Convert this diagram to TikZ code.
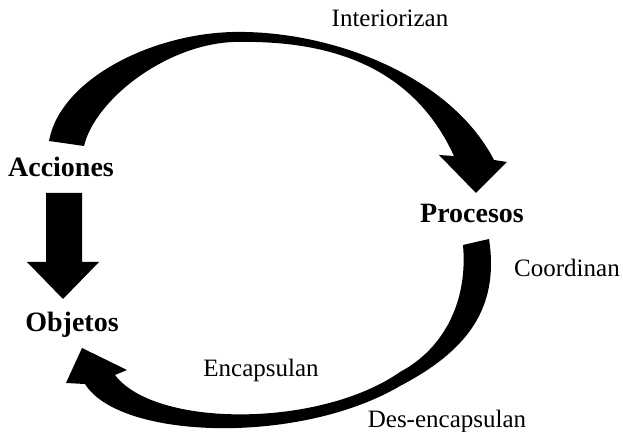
\documentclass[tikz,border=0pt]{standalone}
\usepackage{fontspec}
\setmainfont{Liberation Serif}

\begin{document}
\begin{tikzpicture}
[x=0.5pt,y=-0.5pt,
  stagedecorate/.style={font=\fontsize{14}{16}\selectfont\bfseries,inner sep=0pt,anchor=base},%
  verbdecorate/.style={font=\fontsize{12.5}{15}\selectfont,inner sep=0pt,anchor=base},%
  arrowdecorate/.style={fill=black,draw=none}]
\useasboundingbox (0,0) rectangle (623,432);
%% stages
\foreach \nodename/\x/\y/\word in {acciones/61/177/Acciones,
  procesos/472/223/Procesos, objetos/72/332/Objetos}
{
  \node (\nodename) at (\x,\y) [stagedecorate] {\word};
}
%% words on the arrows
\foreach \nodename/\x/\y/\word in {interiorizan/390/27/Interiorizan,
  coordinan/567/277/Coordinan, encapsulan/261/377/Encapsulan,
  desencapsulan/447/428/Des-encapsulan}
{
  \node (\nodename) at (\x,\y) [verbdecorate] {\word};
}
%% block arrows
% acciones -> procesos
\fill[arrowdecorate] (49,141) .. controls (60,80) and (150,34) .. (233,32)
  .. controls (330,30) and (450,75) .. (494,160)
  -- (507,162) -- (476,193) -- (439,155) -- (454,156)
  .. controls (410,60) and (320,40) .. (233,42)
  .. controls (165,45) and (95,100) .. (84,146) -- cycle;
% acciones -> objetos
\fill[arrowdecorate] (46,193) -- (82,193) -- (82,262) -- (99,262) -- (63,299)
  -- (27,262) -- (46,262) -- cycle;
% procesos -> objetos
\fill[arrowdecorate] (489,239) .. controls (500,310) and (465,352) .. (400,386)
  .. controls (300,445) and (120,440) .. (85,384)
  -- (66,383) -- (82,348) -- (127,370) -- (115,375)
  .. controls (155,428) and (320,428) .. (400,372)
  .. controls (445,348) and (468,300) .. (463,245) -- cycle;
\end{tikzpicture}
\end{document}
